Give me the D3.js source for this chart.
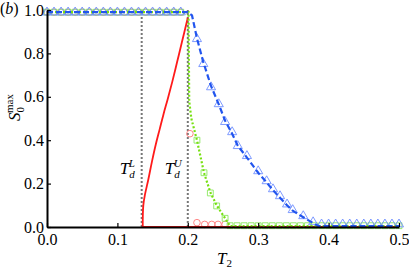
<!DOCTYPE html>
<html>
<head>
<meta charset="utf-8">
<script src="https://cdn.jsdelivr.net/npm/d3@7"></script>
<style>
  body { margin: 0; background: #fff; font-family: "Liberation Serif"; }
  svg text { font-family: "Liberation Serif"; }
</style>
</head>
<body>
<svg width="409" height="271"></svg>
<script>
(function(d3) {
    'use strict';

    const FONT = 'Liberation Serif';

    // tick labels
    const xTicks = [0, 0.1, 0.2, 0.3, 0.4, 0.5];
    const yTicks = [0, 0.2, 0.4, 0.6, 0.8, 1.0];

    // theory curves
    const redT = [0.136, 0.1361, 0.1368, 0.1392, 0.1440, 0.1490, 0.1545, 0.1600, 0.1655, 0.1715, 0.1780, 0.1848, 0.1915, 0.1960, 0.2000];
    const redS = [0.0, 0.05, 0.10, 0.15, 0.22, 0.30, 0.38, 0.45, 0.52, 0.59, 0.67, 0.76, 0.85, 0.91, 0.965];
    const redBaseT = [0.136, 0.5];
    const redBaseS = [0.0, 0.0];

    const greenT = [0.0, 0.201, 0.202, 0.205, 0.213, 0.223, 0.232, 0.241, 0.253, 0.260, 0.5];
    const greenS = [0.99, 0.99, 0.58, 0.50, 0.40, 0.25, 0.16, 0.10, 0.04, 0.004, 0.004];

    const blueT = [0.0, 0.200, 0.206, 0.213, 0.222, 0.233, 0.244, 0.253, 0.263, 0.271, 0.284, 0.300, 0.312, 0.321, 0.331, 0.341, 0.349, 0.364, 0.378, 0.386, 0.5];
    const blueS = [0.99, 0.99, 0.975, 0.87, 0.76, 0.65, 0.565, 0.49, 0.43, 0.375, 0.32, 0.25, 0.205, 0.17, 0.135, 0.10, 0.075, 0.045, 0.018, 0.004, 0.004];

    // simulation points
    const circT = [0.00, 0.01, 0.02, 0.03, 0.04, 0.05, 0.06, 0.07, 0.08, 0.09, 0.10, 0.11, 0.12, 0.13, 0.14, 0.15, 0.16, 0.17, 0.18, 0.19, 0.203, 0.213, 0.224, 0.234, 0.243, 0.253];
    const circS = [0.99, 0.99, 0.99, 0.99, 0.99, 0.99, 0.99, 0.99, 0.99, 0.99, 0.99, 0.99, 0.99, 0.99, 0.99, 0.99, 0.99, 0.99, 0.99, 0.99, 0.43, 0.02, 0.012, 0.012, 0.012, 0.012];

    const sqT = [0.00, 0.01, 0.02, 0.03, 0.04, 0.05, 0.06, 0.07, 0.08, 0.09, 0.10, 0.11, 0.12, 0.13, 0.14, 0.15, 0.16, 0.17, 0.18, 0.19, 0.213, 0.223, 0.232, 0.241, 0.253,
        0.26, 0.27, 0.28, 0.29, 0.30, 0.31, 0.32, 0.33, 0.34, 0.35, 0.36, 0.37, 0.38, 0.39, 0.40, 0.41, 0.42, 0.43, 0.44, 0.45, 0.46, 0.47, 0.48, 0.49, 0.50];
    const sqS = [0.99, 0.99, 0.99, 0.99, 0.99, 0.99, 0.99, 0.99, 0.99, 0.99, 0.99, 0.99, 0.99, 0.99, 0.99, 0.99, 0.99, 0.99, 0.99, 0.99, 0.40, 0.25, 0.157, 0.097, 0.04,
        0.006, 0.006, 0.006, 0.006, 0.006, 0.006, 0.006, 0.006, 0.006, 0.006, 0.006, 0.006, 0.006, 0.006, 0.006, 0.006, 0.006, 0.006, 0.006, 0.006, 0.006, 0.006, 0.006, 0.006, 0.006];

    const triT = [0.00, 0.01, 0.02, 0.03, 0.04, 0.05, 0.06, 0.07, 0.08, 0.09, 0.10, 0.11, 0.12, 0.13, 0.14, 0.15, 0.16, 0.17, 0.18, 0.19, 0.213, 0.222, 0.233, 0.244, 0.253, 0.263, 0.271, 0.284, 0.300, 0.312, 0.321, 0.331, 0.341, 0.349, 0.364, 0.378,
        0.39, 0.40, 0.41, 0.42, 0.43, 0.44, 0.45, 0.46, 0.47, 0.48, 0.49, 0.50];
    const triS = [0.985, 0.985, 0.985, 0.985, 0.985, 0.985, 0.985, 0.985, 0.985, 0.985, 0.985, 0.985, 0.985, 0.985, 0.985, 0.985, 0.985, 0.985, 0.985, 0.985, 0.862, 0.747, 0.64, 0.562, 0.48, 0.433, 0.369, 0.323, 0.253, 0.207, 0.17, 0.138, 0.10, 0.074, 0.046, 0.018,
        0.008, 0.008, 0.008, 0.008, 0.008, 0.008, 0.008, 0.008, 0.008, 0.008, 0.008, 0.008];

    // threshold lines
    const thresholds = [
        {t: 0.1345, name: 'L'},
        {t: 0.2, name: 'U'}
    ];

    const svg = d3.select('svg');
    const x = d3.scaleLinear().domain([0, 0.5]).range([47, 399]);
    const y = d3.scaleLinear().domain([0, 1]).range([227, 10]);

    const zip = (a, b) => a.map((v, i) => [v, b[i]]);
    const line = d3.line().x(d => x(d[0])).y(d => y(d[1]));

    // dotted thresholds
    svg.append('g').selectAll('line')
        .data(thresholds)
        .enter().append('line')
        .attr('x1', d => x(d.t)).attr('x2', d => x(d.t))
        .attr('y1', y(0)).attr('y2', y(1))
        .attr('stroke', '#777')
        .attr('stroke-width', 2)
        .attr('stroke-dasharray', '2,2');

    // markers under curves
    svg.append('g').selectAll('circle')
        .data(zip(circT, circS))
        .enter().append('circle')
        .attr('cx', d => x(d[0])).attr('cy', d => y(d[1]))
        .attr('r', 3.3)
        .attr('fill', 'none')
        .attr('stroke', '#ff7777')
        .attr('stroke-width', 0.9);

    svg.append('g').selectAll('path')
        .data(zip(sqT, sqS))
        .enter().append('path')
        .attr('transform', d => `translate(${x(d[0])},${y(d[1])})`)
        .attr('d', d3.symbol(d3.symbolSquare, 34))
        .attr('fill', 'none')
        .attr('stroke', '#8be860')
        .attr('stroke-width', 0.9);

    svg.append('g').selectAll('path')
        .data(zip(triT, triS))
        .enter().append('path')
        .attr('transform', d => `translate(${x(d[0])},${y(d[1]) - 1})`)
        .attr('d', d3.symbol(d3.symbolTriangle, 36))
        .attr('fill', 'none')
        .attr('stroke', '#7090ff')
        .attr('stroke-width', 0.9);

    // curves
    svg.append('path')
        .attr('d', line(zip(redBaseT, redBaseS)))
        .attr('fill', 'none').attr('stroke', '#ff1a1a').attr('stroke-width', 2);
    svg.append('path')
        .attr('d', line.curve(d3.curveCatmullRom)(zip(redT, redS)))
        .attr('fill', 'none').attr('stroke', '#ff1a1a').attr('stroke-width', 1.8);
    line.curve(d3.curveLinear);

    svg.append('path')
        .attr('d', line(zip(greenT, greenS)))
        .attr('fill', 'none').attr('stroke', '#77e011').attr('stroke-width', 2.2)
        .attr('stroke-dasharray', '2,2');

    svg.append('path')
        .attr('d', line(zip(blueT, blueS)))
        .attr('fill', 'none').attr('stroke', '#2255ee').attr('stroke-width', 2.2)
        .attr('stroke-dasharray', '6,3');

    // axes
    const xAxis = svg.append('g')
        .attr('transform', `translate(0,${y(0)})`)
        .call(d3.axisBottom(x).tickValues(xTicks).tickSizeInner(-4).tickSizeOuter(0).tickPadding(6)
            .tickFormat(d3.format('.1f')));
    const yAxis = svg.append('g')
        .attr('transform', `translate(${x(0)},0)`)
        .call(d3.axisLeft(y).tickValues(yTicks).tickSizeInner(-4).tickSizeOuter(0).tickPadding(3)
            .tickFormat(d3.format('.1f')));
    [xAxis, yAxis].forEach(g => {
        g.attr('font-family', FONT);
        g.select('.domain').attr('stroke', '#000').attr('stroke-width', 2);
        g.selectAll('.tick line').attr('stroke', '#000').attr('stroke-width', 1.2);
        g.selectAll('.tick text')
            .attr('font-family', FONT)
            .attr('font-size', 16)
            .attr('fill', '#000');
    });
    xAxis.selectAll('.tick text').attr('dy', '0.72em');

    // labels
    const lab = svg.append('g').attr('font-family', FONT).attr('fill', '#000');

    const tb = lab.append('text').attr('x', 0).attr('y', 14).attr('font-size', 16);
    tb.append('tspan').text('(');
    tb.append('tspan').attr('font-style', 'italic').text('b');
    tb.append('tspan').text(')');

    const xl = lab.append('text').attr('x', 217).attr('y', 264).attr('font-size', 17);
    xl.append('tspan').attr('font-style', 'italic').text('T');
    xl.append('tspan').attr('font-size', 11).attr('dy', 3).text('2');

    const yl = lab.append('text')
        .attr('transform', 'translate(20,121) rotate(-90)')
        .attr('font-size', 17);
    yl.append('tspan').attr('font-style', 'italic').text('S');
    yl.append('tspan').attr('font-size', 11).attr('dy', 4).attr('dx', 0).text('0');
    yl.append('tspan').attr('font-size', 11).attr('dy', -11).attr('dx', -6).text('max');

    thresholds.forEach((d, i) => {
        const tx = lab.append('text')
            .attr('x', x(d.t) - (i === 0 ? 22 : 23))
            .attr('y', 174)
            .attr('font-size', 17);
        tx.append('tspan').attr('font-style', 'italic').text('T');
        tx.append('tspan').attr('font-style', 'italic').attr('font-size', 11).attr('dy', 4).attr('dx', 0).text('d');
        tx.append('tspan').attr('font-style', 'italic').attr('font-size', 11).attr('dy', -11).attr('dx', -6).text(d.name);
    });
}(d3));
</script>
</body>
</html>
